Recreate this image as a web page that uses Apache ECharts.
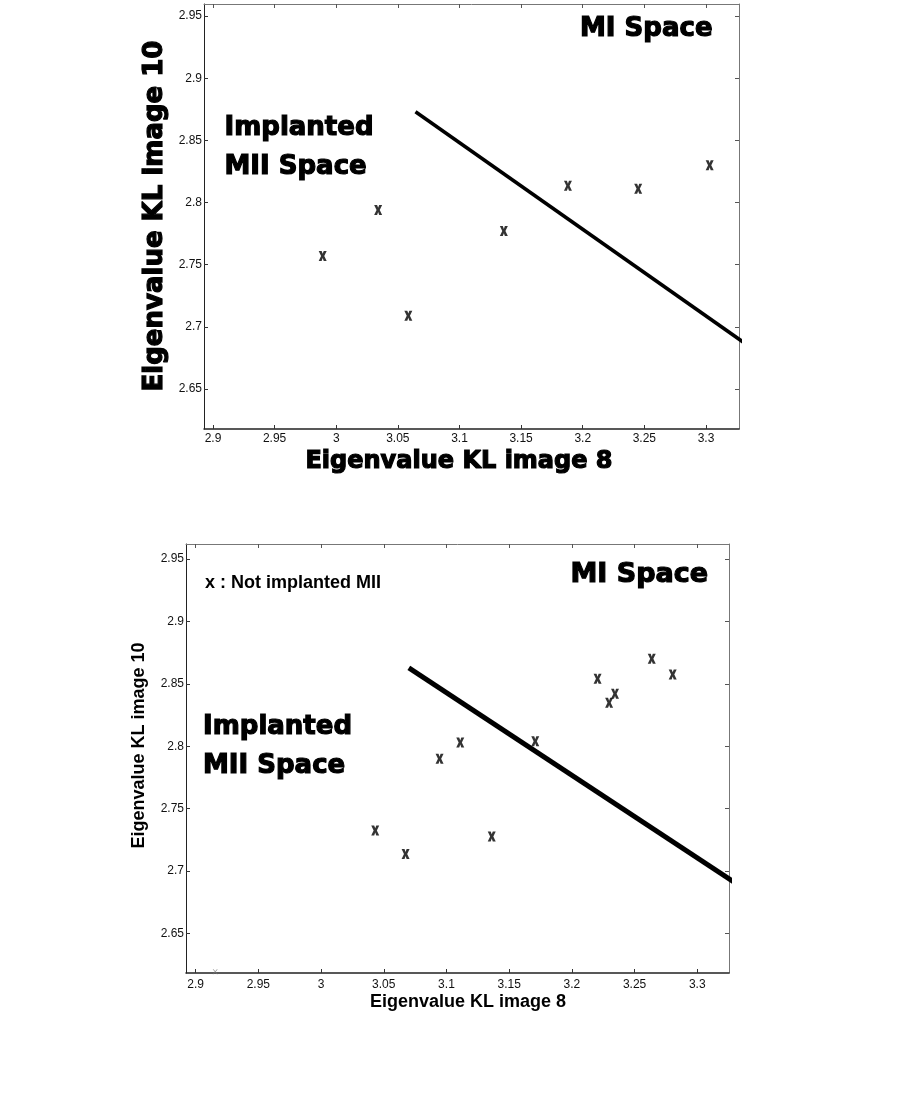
<!DOCTYPE html>
<html><head><meta charset="utf-8">
<script src="https://cdn.jsdelivr.net/npm/echarts@6/dist/echarts.min.js"></script>
<style>html,body{margin:0;padding:0;background:#fff}#c{width:901px;height:1105px}</style>
</head><body><div id="c"></div>
<script>
// ---- data ----
const xTicks = [2.9, 2.95, 3, 3.05, 3.1, 3.15, 3.2, 3.25, 3.3];
const yTicks = [2.65, 2.7, 2.75, 2.8, 2.85, 2.9, 2.95];

const topPoints = [[2.989, 2.757], [3.034, 2.794], [3.0585, 2.709], [3.136, 2.777],
                   [3.188, 2.8135], [3.245, 2.811], [3.303, 2.830]];
const topBoundary = [[3.0643, 2.873], [3.3334, 2.6855]];

const bottomPoints = [[3.0432, 2.7326], [3.0674, 2.7137], [3.0945, 2.790], [3.111, 2.803],
                      [3.1361, 2.7278], [3.1708, 2.804], [3.2205, 2.854], [3.2297, 2.8348],
                      [3.2344, 2.842], [3.2637, 2.870], [3.2804, 2.8575]];
const bottomBoundary = [[3.07, 2.8628], [3.33, 2.6907]];
const strayMark = [[2.9156, 2.6195]];

const topXRange = [2.8927, 3.3268], topYRange = [2.6178, 2.9597];
const botXRange = [2.8923, 3.3253], botYRange = [2.6184, 2.962];

// ---- helpers ----
const tickFont = 'Liberation Sans';
const fmt = v => String(+(+v).toFixed(2));
const xMark = 'path://M0,0 L3.7,0 L5,2.9 L6.3,0 L10,0 L7,5 L10,10 L6.3,10 L5,7.1 L3.7,10 L0,10 L3,5 Z';
const thinMark = 'path://M0,0 L1.6,0 L5,4 L8.4,0 L10,0 L6,5 L10,10 L8.4,10 L5,6 L1.6,10 L0,10 L4,5 Z';

function xAxesFor(g, range, margin) {
  return [
    { type: 'value', gridIndex: g, position: 'bottom', min: range[0], max: range[1],
      axisLine: { show: true, onZero: false, lineStyle: { color: '#222', width: 1.5 } },
      axisTick: { show: true, inside: true, length: 4, customValues: xTicks, lineStyle: { color: '#333' } },
      axisLabel: { show: true, customValues: xTicks, margin: margin, formatter: fmt,
                   fontFamily: tickFont, fontSize: 12, color: '#111' },
      splitLine: { show: false } },
    { type: 'value', gridIndex: g, position: 'top', min: range[0], max: range[1],
      axisLine: { show: true, onZero: false, lineStyle: { color: '#777', width: 1 } },
      axisTick: { show: true, inside: true, length: 4, customValues: xTicks, lineStyle: { color: '#555' } },
      axisLabel: { show: false }, splitLine: { show: false } }
  ];
}
function yAxesFor(g, range) {
  return [
    { type: 'value', gridIndex: g, position: 'left', min: range[0], max: range[1],
      axisLine: { show: true, onZero: false, lineStyle: { color: '#222', width: 1 } },
      axisTick: { show: true, inside: true, length: 4, customValues: yTicks, lineStyle: { color: '#333' } },
      axisLabel: { show: true, customValues: yTicks, margin: 2, formatter: fmt,
                   fontFamily: tickFont, fontSize: 12, color: '#111' },
      splitLine: { show: false } },
    { type: 'value', gridIndex: g, position: 'right', min: range[0], max: range[1],
      axisLine: { show: true, onZero: false, lineStyle: { color: '#777', width: 1 } },
      axisTick: { show: true, inside: true, length: 4, customValues: yTicks, lineStyle: { color: '#555' } },
      axisLabel: { show: false }, splitLine: { show: false } }
  ];
}
function txt(text, x, y, font, align, rot, stroke) {
  const style = { text: text, font: font, fill: '#000', textAlign: align || 'left',
                  textVerticalAlign: 'middle', verticalAlign: 'middle' };
  if (stroke) { style.stroke = '#000'; style.lineWidth = stroke; }
  return { type: 'text', x: x, y: y, rotation: rot || 0, z: 100, style: style };
}
const heavy = s => 'bold ' + s + 'px "DejaVu Sans"';
const arialB = s => 'bold ' + s + 'px "Liberation Sans"';

const chart = echarts.init(document.getElementById('c'), null, { renderer: 'canvas' });
chart.setOption({
  animation: false,
  backgroundColor: '#fff',
  grid: [
    { left: 204, top: 4, width: 535, height: 425 },
    { left: 186, top: 544, width: 543, height: 429 }
  ],
  xAxis: [...xAxesFor(0, topXRange, 4), ...xAxesFor(1, botXRange, 6)],
  yAxis: [...yAxesFor(0, topYRange), ...yAxesFor(1, botYRange)],
  series: [
    { type: 'line', xAxisIndex: 0, yAxisIndex: 0, data: topBoundary, symbol: 'none', clip: false,
      lineStyle: { color: '#000', width: 3.5 } },
    { type: 'scatter', xAxisIndex: 0, yAxisIndex: 0, data: topPoints, symbol: xMark,
      symbolSize: [8, 10], itemStyle: { color: '#000' } },
    { type: 'line', xAxisIndex: 2, yAxisIndex: 2, data: bottomBoundary, symbol: 'none', clip: false,
      lineStyle: { color: '#000', width: 5 } },
    { type: 'scatter', xAxisIndex: 2, yAxisIndex: 2, data: bottomPoints, symbol: xMark,
      symbolSize: [8, 10], itemStyle: { color: '#000' } },
    { type: 'scatter', xAxisIndex: 2, yAxisIndex: 2, data: strayMark, symbol: thinMark, clip: false,
      symbolSize: [5, 5], itemStyle: { color: '#777' } }
  ],
  graphic: [
    txt('MI Space', 580, 29.5, heavy(26), 'left', 0, 1.2),
    txt('Implanted', 224.5, 128.5, heavy(26), 'left', 0, 1.2),
    txt('MII Space', 224.5, 167, heavy(26), 'left', 0, 1.2),
    txt('Eigenvalue KL image 8', 459, 462, heavy(24), 'center', 0, 1.2),
    txt('Eigenvalue KL image 10', 155, 216, heavy(26), 'center', Math.PI / 2, 1.2),
    txt('x : Not implanted MII', 205, 583.4, arialB(18)),
    txt('MI Space', 570.5, 575, heavy(27), 'left', 0, 1.2),
    txt('Implanted', 203, 727, heavy(26), 'left', 0, 1.2),
    txt('MII Space', 203, 766.7, heavy(26), 'left', 0, 1.2),
    txt('Eigenvalue KL image 8', 468, 1002, arialB(18), 'center'),
    txt('Eigenvalue KL image 10', 139, 745.5, arialB(18), 'center', Math.PI / 2)
  ]
});
</script></body></html>
